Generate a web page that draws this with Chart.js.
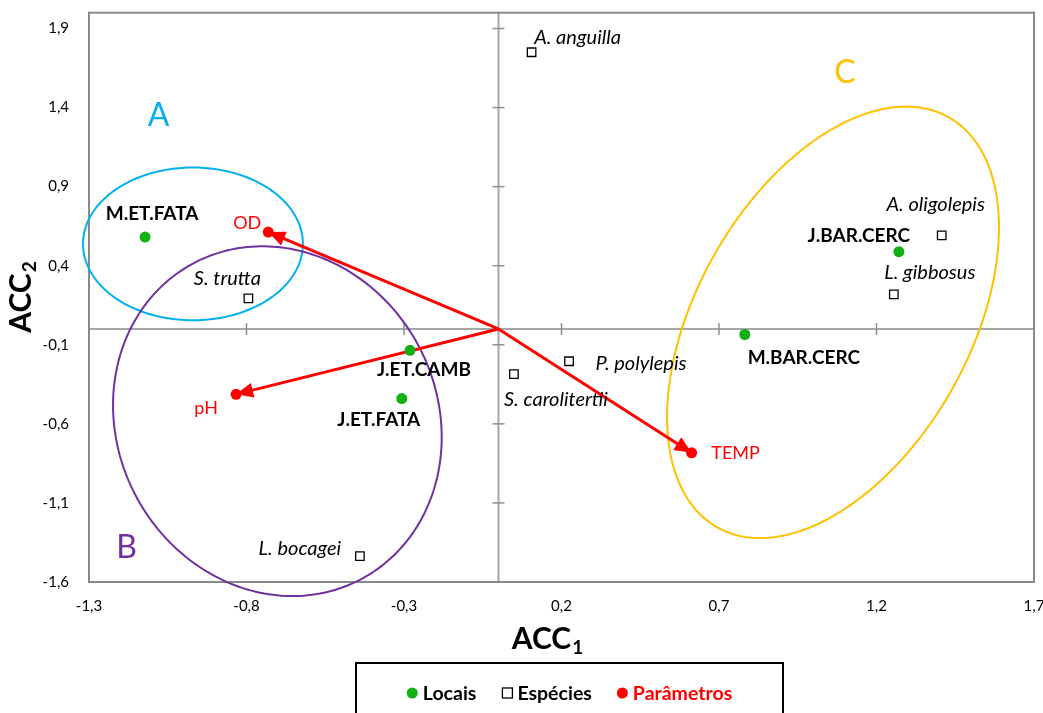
<!DOCTYPE html>
<html>
<head>
<meta charset="utf-8">
<title>ACC</title>
<script src="https://cdn.jsdelivr.net/npm/chart.js@4.4.1/dist/chart.umd.min.js"></script>
<style>
  html, body { margin: 0; padding: 0; background: #ffffff; }
  #wrap { width: 1043px; height: 713px; position: relative; }
</style>
</head>
<body>
<div id="wrap"><canvas id="acc"></canvas></div>
<script>
// ---- axis ticks ----
const xTicks = [-1.3, -0.8, -0.3, 0.2, 0.7, 1.2, 1.7];
const yTicks = [-1.6, -1.1, -0.6, -0.1, 0.4, 0.9, 1.4, 1.9];

// ---- sampling sites (Locais) ----
const siteNames = ['M.ET.FATA', 'J.BAR.CERC', 'M.BAR.CERC', 'J.ET.CAMB', 'J.ET.FATA'];
const siteX = [-1.122, 1.271, 0.782, -0.281, -0.307];
const siteY = [0.581, 0.489, -0.035, -0.135, -0.440];

// ---- species (Espécies) ----
const speciesNames = ['A. anguilla', 'A. oligolepis', 'L. gibbosus', 'S. trutta', 'L. bocagei', 'P. polylepis', 'S. carolitertii'];
const speciesX = [0.105, 1.407, 1.255, -0.794, -0.440, 0.224, 0.049];
const speciesY = [1.750, 0.592, 0.219, 0.194, -1.436, -0.204, -0.286];

// ---- environmental parameters (Parâmetros) ----
const paramNames = ['OD', 'pH', 'TEMP'];
const paramX = [-0.731, -0.833, 0.613];
const paramY = [0.613, -0.413, -0.783];

// ---- styling ----
const FONT = 'Lato, "Open Sans", "Noto Sans", sans-serif';
const GREEN = '#12B012';
const RED = '#FF0000';

// label placement relative to each marker (pixels)
const labelOffsets = {
  'M.ET.FATA': [7, -23], 'J.BAR.CERC': [-40, -16], 'M.BAR.CERC': [59, 23],
  'J.ET.CAMB': [14, 20], 'J.ET.FATA': [-23, 21],
  'A. anguilla': [46, -15], 'A. oligolepis': [-6, -31], 'L. gibbosus': [36, -22],
  'S. trutta': [-21, -20], 'L. bocagei': [-60, -8], 'P. polylepis': [72, 2],
  'S. carolitertii': [42, 25],
  'OD': [-21, -9], 'pH': [-30, 14], 'TEMP': [44, 0]
};

// group outlines: centre, two conjugate semi-axes (axis units) and letter position
const groups = [
  { letter: 'A', color: '#00B0F0', cx: -0.970, cy: 0.538, u: [0.349, 0], v: [0, 0.483], lx: -1.079, ly: 1.35 },
  { letter: 'B', color: '#7030A0', cx: -0.702, cy: -0.583, u: [-0.027, 1.105], v: [0.521, -0.044], lx: -1.181, ly: -1.382 },
  { letter: 'C', color: '#FFC000', cx: 1.062, cy: 0.042, u: [0.367, 1.297], v: [0.378, -0.423], lx: 1.10, ly: 1.62 }
];

const toPoints = (xs, ys) => xs.map((v, i) => ({ x: v, y: ys[i] }));
const fmt = v => Number(v).toFixed(1).replace('.', ',');

function line(ctx, x1, y1, x2, y2) {
  ctx.beginPath(); ctx.moveTo(x1, y1); ctx.lineTo(x2, y2); ctx.stroke();
}

// frame, centred axes, group ellipses and parameter vectors (below the markers)
const background = {
  id: 'background',
  beforeDatasetsDraw(chart) {
    const { ctx, chartArea: a, scales: { x, y } } = chart;
    const x0 = x.getPixelForValue(0), y0 = y.getPixelForValue(0);
    ctx.save();
    ctx.lineCap = 'butt';
    ctx.strokeStyle = '#A6A6A6'; ctx.lineWidth = 2;
    line(ctx, a.left, y0, a.right, y0);
    line(ctx, x0, a.top, x0, a.bottom);
    ctx.strokeStyle = '#8F8F8F'; ctx.lineWidth = 1.5;
    xTicks.forEach(v => { const px = x.getPixelForValue(v); line(ctx, px, y0 - 6, px, y0 + 6); });
    yTicks.forEach(v => { const py = y.getPixelForValue(v); line(ctx, x0 - 6, py, x0 + 6, py); });
    ctx.strokeStyle = '#898989'; ctx.lineWidth = 2;
    ctx.strokeRect(a.left, a.top, a.right - a.left, a.bottom - a.top);

    // group ellipses
    groups.forEach(g => {
      ctx.beginPath();
      for (let k = 0; k <= 240; k++) {
        const t = (k / 240) * Math.PI * 2;
        const px = x.getPixelForValue(g.cx + g.u[0] * Math.cos(t) + g.v[0] * Math.sin(t));
        const py = y.getPixelForValue(g.cy + g.u[1] * Math.cos(t) + g.v[1] * Math.sin(t));
        if (k === 0) ctx.moveTo(px, py); else ctx.lineTo(px, py);
      }
      ctx.closePath();
      ctx.strokeStyle = g.color; ctx.lineWidth = 2; ctx.stroke();
    });

    // parameter vectors from the origin
    ctx.strokeStyle = RED; ctx.fillStyle = RED; ctx.lineWidth = 3;
    paramX.forEach((vx, i) => {
      const px = x.getPixelForValue(vx), py = y.getPixelForValue(paramY[i]);
      const ang = Math.atan2(py - y0, px - x0);
      const head = 17, half = 7.5;
      const bx = px - head * Math.cos(ang), by = py - head * Math.sin(ang);
      line(ctx, x0, y0, bx + 2 * Math.cos(ang), by + 2 * Math.sin(ang));
      ctx.beginPath();
      ctx.moveTo(px, py);
      ctx.lineTo(bx - half * Math.sin(ang), by + half * Math.cos(ang));
      ctx.lineTo(bx + half * Math.sin(ang), by - half * Math.cos(ang));
      ctx.closePath(); ctx.fill();
    });
    ctx.restore();
  }
};

// point labels, group letters, axis titles and legend
const annotations = {
  id: 'annotations',
  afterDatasetsDraw(chart) {
    const { ctx, scales: { x, y } } = chart;
    ctx.save();
    ctx.textAlign = 'center'; ctx.textBaseline = 'middle';
    const put = (names, xs, ys, font, color) => {
      ctx.font = font; ctx.fillStyle = color;
      names.forEach((n, i) => {
        const o = labelOffsets[n] || [0, 0];
        ctx.fillText(n, x.getPixelForValue(xs[i]) + o[0], y.getPixelForValue(ys[i]) + o[1]);
      });
    };
    put(siteNames, siteX, siteY, 'bold 19px ' + FONT, '#000000');
    put(speciesNames, speciesX, speciesY, 'italic 20px ' + FONT, '#000000');
    put(paramNames, paramX, paramY, '18px ' + FONT, RED);

    ctx.font = '32px ' + FONT;
    groups.forEach(g => {
      ctx.fillStyle = g.color;
      ctx.fillText(g.letter, x.getPixelForValue(g.lx), y.getPixelForValue(g.ly));
    });

    // axis titles with subscripts
    const MAIN = 'bold 30px ' + FONT, SUB = 'bold 19px ' + FONT;
    const titleWithSub = (main, sub) => {
      ctx.font = MAIN; const w1 = ctx.measureText(main).width;
      ctx.font = SUB; const w2 = ctx.measureText(sub).width;
      return { w1, w2, total: w1 + w2 + 1 };
    };
    ctx.textAlign = 'left'; ctx.textBaseline = 'alphabetic';
    let m = titleWithSub('ACC', '1');
    let sx = 547.5 - m.total / 2, base = 649;
    ctx.fillStyle = '#000000';
    ctx.font = MAIN; ctx.fillText('ACC', sx, base);
    ctx.font = SUB; ctx.fillText('1', sx + m.w1 + 1, base + 5);

    ctx.save();
    ctx.translate(31, 297); ctx.rotate(-Math.PI / 2);
    m = titleWithSub('ACC', '2');
    sx = -m.total / 2;
    ctx.font = MAIN; ctx.fillText('ACC', sx, 0);
    ctx.font = SUB; ctx.fillText('2', sx + m.w1 + 1, 5);
    ctx.restore();

    // legend box
    ctx.strokeStyle = '#000000'; ctx.lineWidth = 2;
    ctx.strokeRect(356, 663, 427, 70);
    const items = [
      { text: 'Locais', kind: 'dot', color: GREEN, textColor: '#000000' },
      { text: 'Espécies', kind: 'square', color: '#000000', textColor: '#000000' },
      { text: 'Parâmetros', kind: 'dot', color: RED, textColor: RED }
    ];
    ctx.font = 'bold 19.5px ' + FONT; ctx.textBaseline = 'middle';
    const mark = 11, gapText = 5, gapItem = 25;
    const widths = items.map(it => mark + gapText + ctx.measureText(it.text).width);
    const totalW = widths.reduce((s, w) => s + w, 0) + gapItem * (items.length - 1);
    let lx = 569.5 - totalW / 2; const ly = 693;
    items.forEach((it, i) => {
      if (it.kind === 'dot') {
        ctx.fillStyle = it.color; ctx.beginPath(); ctx.arc(lx + mark / 2, ly, 5.5, 0, Math.PI * 2); ctx.fill();
      } else {
        ctx.fillStyle = '#ffffff'; ctx.fillRect(lx + 1, ly - 5, 10, 10);
        ctx.strokeStyle = '#000000'; ctx.lineWidth = 1.3; ctx.strokeRect(lx + 1, ly - 5, 10, 10);
      }
      ctx.fillStyle = it.textColor;
      ctx.fillText(it.text, lx + mark + gapText, ly + 1);
      lx += widths[i] + gapItem;
    });
    ctx.restore();
  }
};

new Chart(document.getElementById('acc'), {
  type: 'scatter',
  data: {
    datasets: [
      { label: 'Locais', data: toPoints(siteX, siteY), pointStyle: 'circle', pointRadius: 5.5,
        backgroundColor: GREEN, borderColor: GREEN, borderWidth: 0 },
      { label: 'Espécies', data: toPoints(speciesX, speciesY), pointStyle: 'rect', pointRadius: 6,
        backgroundColor: '#ffffff', borderColor: '#000000', borderWidth: 1.3 },
      { label: 'Parâmetros', data: toPoints(paramX, paramY), pointStyle: 'circle', pointRadius: 5.5,
        backgroundColor: RED, borderColor: RED, borderWidth: 0 }
    ]
  },
  options: {
    responsive: true,
    maintainAspectRatio: false,
    animation: false,
    layout: { padding: { left: 0, top: 12.7, right: 9, bottom: 0 } },
    plugins: { legend: { display: false }, tooltip: { enabled: false } },
    scales: {
      x: {
        type: 'linear', min: -1.3, max: 1.7,
        grid: { display: false, drawTicks: false }, border: { display: false },
        afterBuildTicks: s => { s.ticks = xTicks.map(v => ({ value: v })); },
        afterFit: s => { s.height = 131; s.paddingLeft = 0; s.paddingRight = 0; },
        ticks: { callback: v => fmt(v), color: '#000000', padding: 15, maxRotation: 0, autoSkip: false,
                 font: { family: FONT, size: 15 } }
      },
      y: {
        type: 'linear', min: -1.6, max: 2.0,
        grid: { display: false, drawTicks: false }, border: { display: false },
        afterBuildTicks: s => { s.ticks = yTicks.map(v => ({ value: v })); },
        afterFit: s => { s.width = 89; s.paddingTop = 0; s.paddingBottom = 0; },
        ticks: { callback: v => fmt(v), color: '#000000', padding: 20, autoSkip: false,
                 font: { family: FONT, size: 15 } }
      }
    }
  },
  plugins: [background, annotations]
});
</script>
</body>
</html>
